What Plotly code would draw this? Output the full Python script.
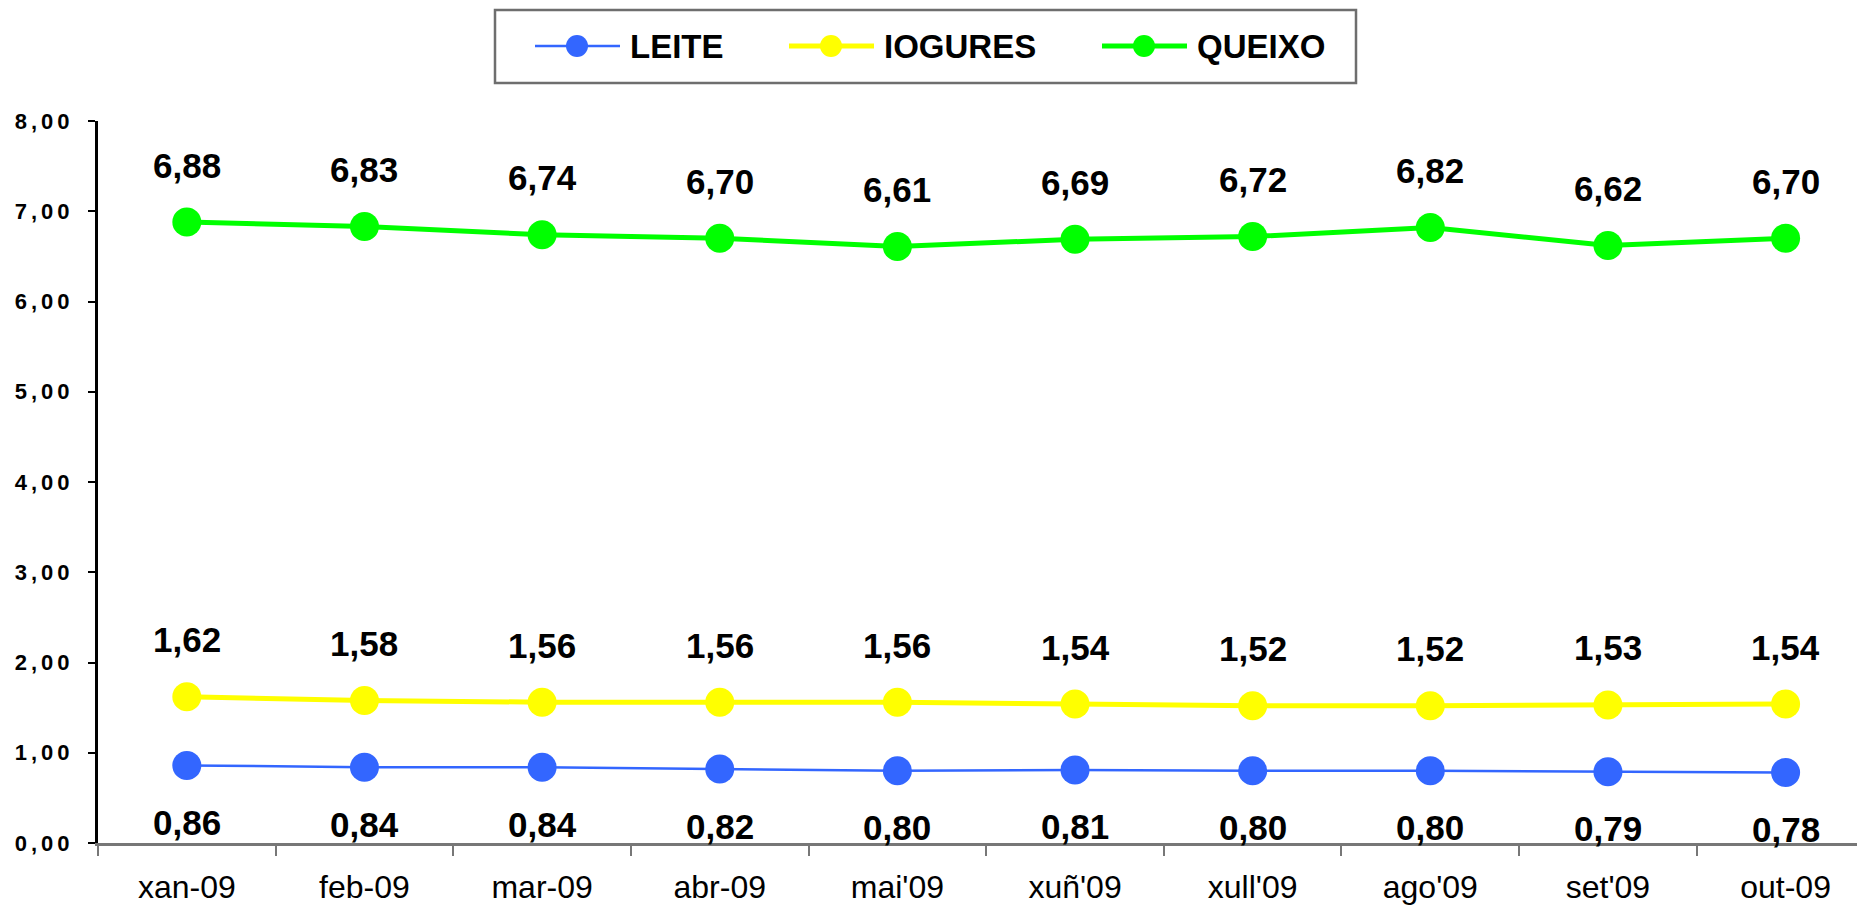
import plotly.graph_objects as go

categories = ["xan-09", "feb-09", "mar-09", "abr-09", "mai'09", "xuñ'09", "xull'09", "ago'09", "set'09", "out-09"]
leite = [0.86, 0.84, 0.84, 0.82, 0.80, 0.81, 0.80, 0.80, 0.79, 0.78]
iogures = [1.62, 1.58, 1.56, 1.56, 1.56, 1.54, 1.52, 1.52, 1.53, 1.54]
queixo = [6.88, 6.83, 6.74, 6.70, 6.61, 6.69, 6.72, 6.82, 6.62, 6.70]
y_ticks = [0, 1, 2, 3, 4, 5, 6, 7, 8]

series_names = ["LEITE", "IOGURES", "QUEIXO"]
series_values = [leite, iogures, queixo]
colors = ["#3366FF", "#FFFF00", "#00FF00"]
line_widths = [2.5, 5, 5]
label_shift = [-57, 57, 57]

W, H = 1857, 908
L, R, T, B = 98, 0, 121, 65
PW, PH = W - L - R, H - T - B

def fmt(v):
    return f"{v:.2f}".replace(".", ",")

fig = go.Figure()
for name, vals, col, lw in zip(series_names, series_values, colors, line_widths):
    fig.add_trace(go.Scatter(
        x=categories, y=vals, name=name, mode="lines+markers",
        line=dict(color=col, width=lw),
        marker=dict(color=col, size=29, line=dict(width=0)),
        cliponaxis=False, showlegend=False,
    ))

annotations = []
for vals, shift in zip(series_values, label_shift):
    for c, v in zip(categories, vals):
        annotations.append(dict(
            x=c, y=v, xref="x", yref="y", text=fmt(v), showarrow=False,
            yshift=shift, xanchor="center", yanchor="middle",
            font=dict(family="Liberation Sans, Arial", size=35, color="black", weight="bold"),
        ))

# custom legend (layout decoration)
def px_x(p):
    return (p - L) / PW

def px_y(p):
    return (H - B - p) / PH

shapes = [dict(type="rect", xref="paper", yref="paper",
               x0=px_x(495), x1=px_x(1356), y0=px_y(83), y1=px_y(10),
               line=dict(color="#6e6e6e", width=2.5), fillcolor="white", layer="below")]
legend_starts = [535, 789, 1102]
ly = 46
for name, col, lw, xs in zip(series_names, colors, line_widths, legend_starts):
    shapes.append(dict(type="line", xref="paper", yref="paper",
                       x0=px_x(xs), x1=px_x(xs + 85), y0=px_y(ly), y1=px_y(ly),
                       line=dict(color=col, width=lw)))
    shapes.append(dict(type="circle", xref="paper", yref="paper",
                       xsizemode="pixel", ysizemode="pixel",
                       xanchor=px_x(xs + 42), yanchor=px_y(ly),
                       x0=-11, x1=11, y0=-11, y1=11,
                       fillcolor=col, line=dict(width=0)))
    annotations.append(dict(x=px_x(xs + 93), y=px_y(ly), xref="paper", yref="paper",
                            text=name, showarrow=False, xanchor="left", yanchor="middle",
                            font=dict(family="Liberation Sans, Arial", size=33, color="black", weight="bold")))

fig.update_layout(
    width=W, height=H, autosize=False,
    margin=dict(l=L, r=R, t=T, b=B, pad=0),
    paper_bgcolor="white", plot_bgcolor="white",
    showlegend=False,
    annotations=annotations, shapes=shapes,
    font=dict(family="Liberation Sans, Arial", color="black"),
)
fig.update_xaxes(
    type="category", range=[-0.5, -0.5 + PW / 177.64],
    showline=True, linecolor="#777777", linewidth=3,
    ticks="outside", tickson="boundaries", ticklen=10, tickcolor="#777777", tickwidth=2,
    showgrid=False, zeroline=False,
    tickfont=dict(family="Liberation Sans, Arial", size=32, color="black"),
    ticklabelstandoff=14,
)
fig.update_yaxes(
    range=[0, 8], tickvals=y_ticks,
    ticktext=[f'<span style="letter-spacing:4px;font-size:22px;font-weight:bold">{fmt(v)}</span>' for v in y_ticks],
    showline=True, linecolor="black", linewidth=3,
    ticks="outside", ticklen=7, tickcolor="black", tickwidth=2,
    showgrid=False, zeroline=False,
    tickfont=dict(family="Liberation Sans, Arial", size=22, color="black", weight="bold"),
    ticklabelstandoff=10,
)

fig.write_html("out.html", config={"displayModeBar": False},
               post_script="document.body.style.margin='0';document.body.style.overflow='hidden';")
